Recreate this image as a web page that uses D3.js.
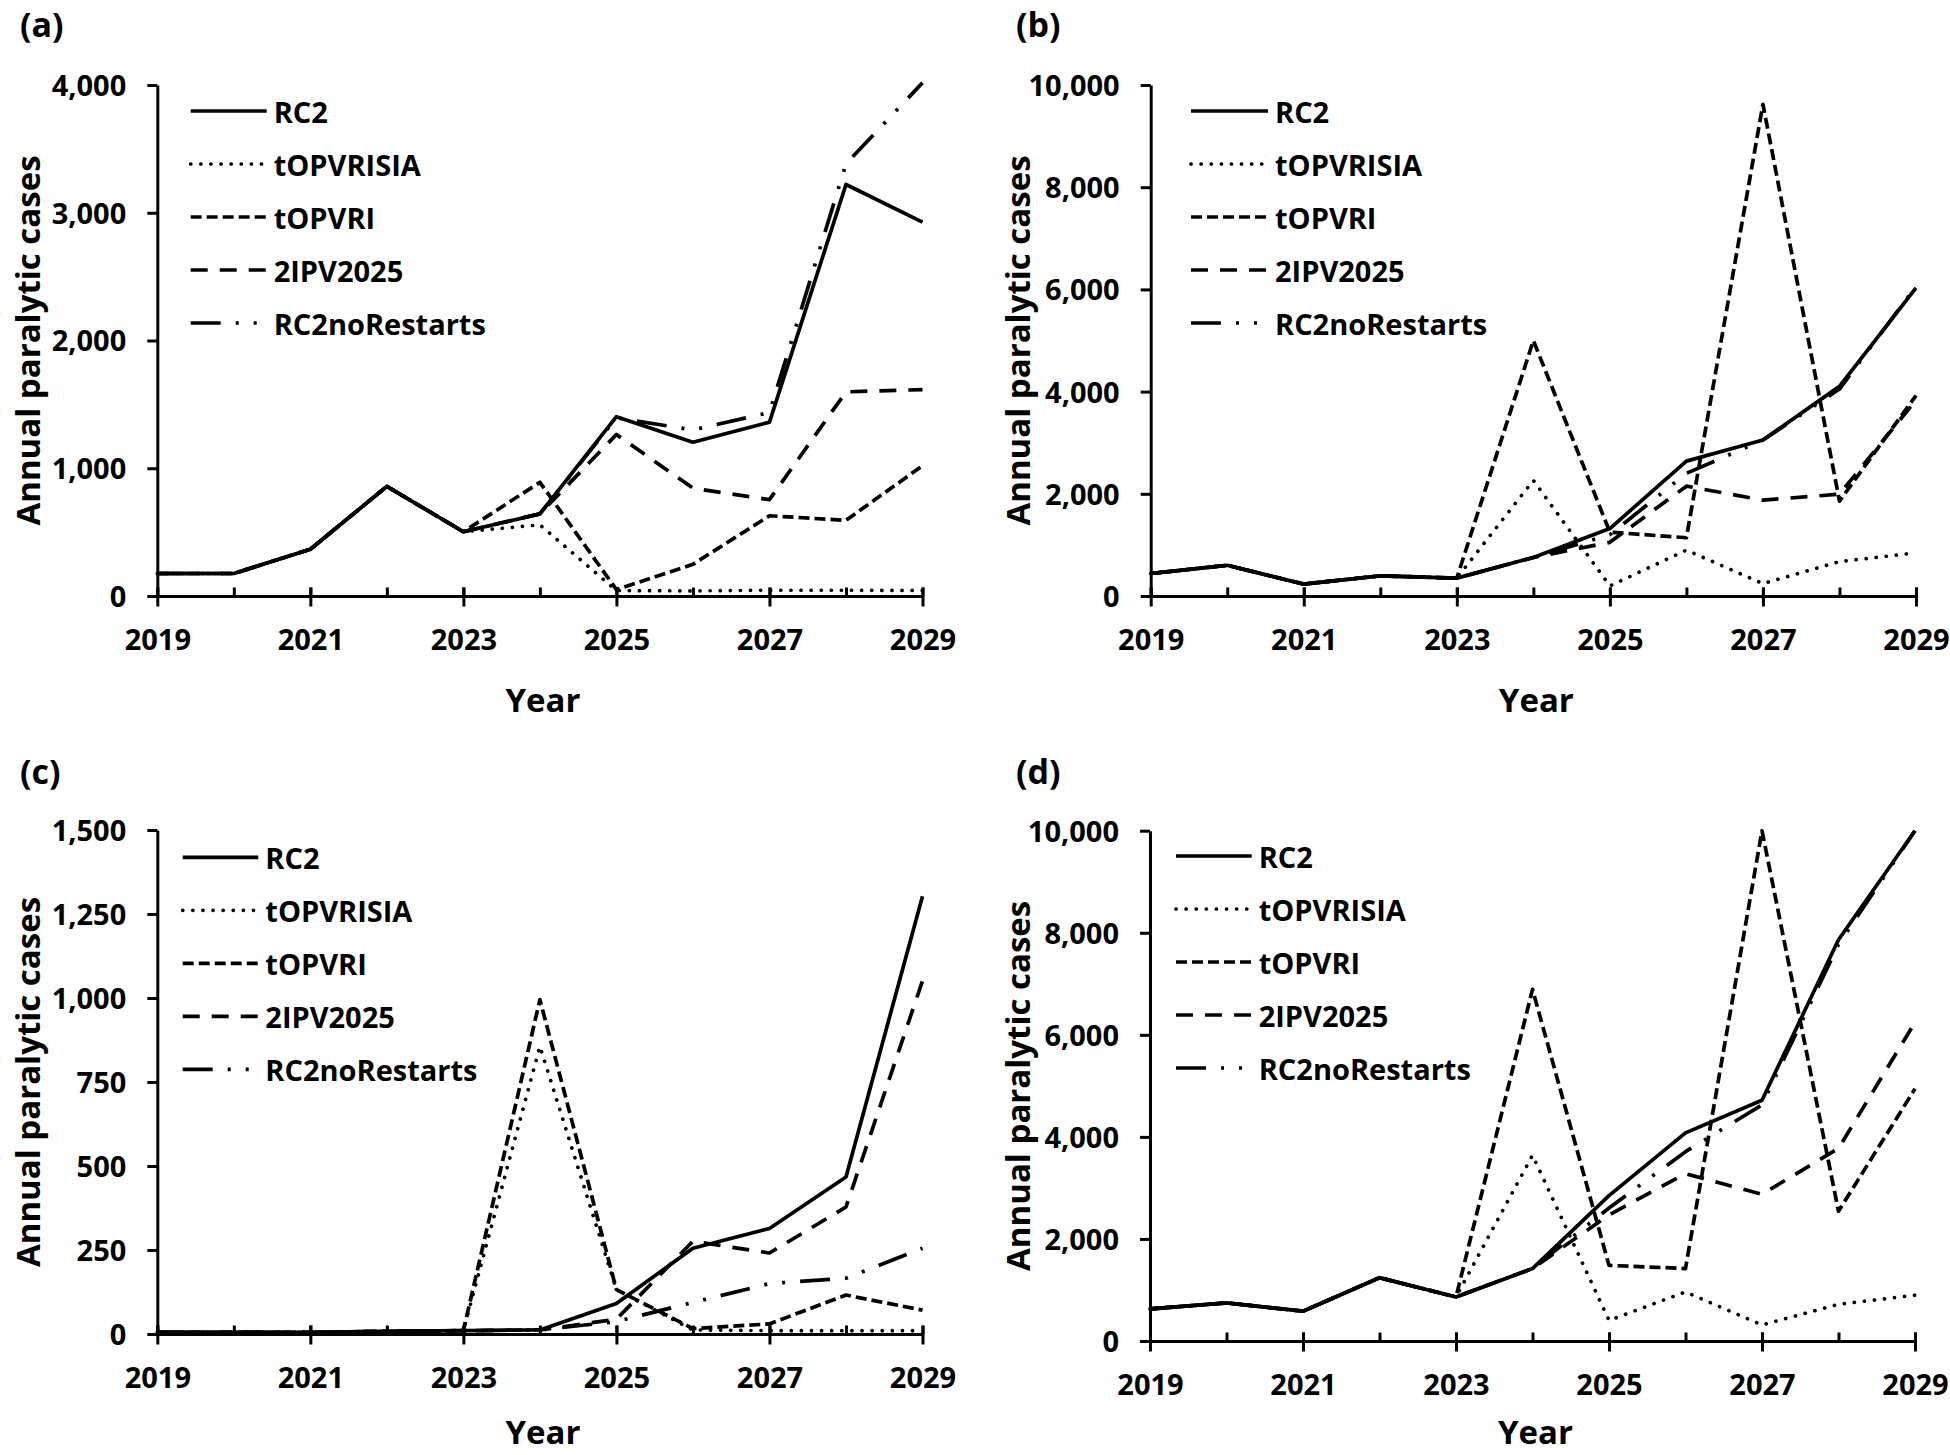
<!DOCTYPE html>
<html>
<head>
<meta charset="utf-8">
<script src="https://cdn.jsdelivr.net/npm/d3@7/dist/d3.min.js"></script>
<style>
  html, body { margin: 0; padding: 0; background: #fff; }
  svg { display: block; }
  text { font-family: "Open Sans", "Noto Sans", sans-serif; font-weight: 700; fill: #000; }
</style>
</head>
<body>
<svg id="chart" width="1950" height="1455"></svg>
<script>
// ---------- data ----------
const years = [2019, 2020, 2021, 2022, 2023, 2024, 2025, 2026, 2027, 2028, 2029];
const xTickLabels = [2019, 2021, 2023, 2025, 2027, 2029];
const seriesNames = ["RC2", "tOPVRISIA", "tOPVRI", "2IPV2025", "RC2noRestarts"];
const panelLabels = ["(a)", "(b)", "(c)", "(d)"];

// panel (a)
const aRC2          = [176, 176, 366, 858, 503, 643, 1404, 1203, 1361, 3221, 2926];
const aTOPVRISIA    = [176, 176, 366, 858, 503, 557, 43, 40, 45, 45, 43];
const aTOPVRI       = [176, 176, 366, 858, 503, 890, 50, 248, 628, 592, 1020];
const a2IPV2025     = [176, 176, 366, 858, 503, 643, 1264, 844, 754, 1598, 1616];
const aRC2noRestarts= [176, 176, 366, 858, 503, 643, 1395, 1300, 1436, 3382, 4018];
const aYTicks = [0, 1000, 2000, 3000, 4000];

// panel (b)
const bRC2          = [440, 601, 233, 395, 350, 754, 1320, 2639, 3052, 4102, 6032];
const bTOPVRISIA    = [440, 601, 233, 395, 350, 2262, 197, 898, 242, 673, 844];
const bTOPVRI       = [440, 601, 233, 395, 350, 5000, 1250, 1140, 9623, 1858, 3923];
const b2IPV2025     = [440, 601, 233, 395, 350, 754, 1050, 2150, 1876, 1993, 3833];
const bRC2noRestarts= [440, 601, 233, 395, 350, 754, 1200, 2400, 3052, 4050, 6060];
const bYTicks = [0, 2000, 4000, 6000, 8000, 10000];

// panel (c)
const cRC2          = [5, 5, 5, 8, 10, 12, 91, 255, 314, 467, 1303];
const cTOPVRISIA    = [5, 5, 5, 8, 10, 856, 132, 12, 10, 10, 10];
const cTOPVRI       = [5, 5, 5, 8, 10, 995, 132, 16, 30, 116, 71];
const c2IPV2025     = [5, 5, 5, 8, 10, 12, 44, 276, 241, 378, 1051];
const cRC2noRestarts= [5, 5, 5, 8, 10, 12, 37, 94, 150, 166, 255];
const cYTicks = [0, 250, 500, 750, 1000, 1250, 1500];

// panel (d)
const dRC2          = [629, 746, 584, 1240, 863, 1420, 2848, 4079, 4717, 7862, 10000];
const dTOPVRISIA    = [629, 746, 584, 1240, 863, 3639, 404, 961, 314, 719, 898];
const dTOPVRI       = [629, 746, 584, 1240, 863, 6891, 1482, 1420, 10000, 2543, 4942];
const d2IPV2025     = [629, 746, 584, 1240, 863, 1420, 2471, 3279, 2875, 3774, 6244];
const dRC2noRestarts= [629, 746, 584, 1240, 863, 1420, 2606, 3710, 4627, 7772, 10000];
const dYTicks = [0, 2000, 4000, 6000, 8000, 10000];

// ---------- styles ----------
const lineStyles = {
  "RC2":           { dash: null,                 cap: "butt"  },
  "tOPVRISIA":     { dash: "0.1,10",             cap: "round" },
  "tOPVRI":        { dash: "11,5",               cap: "butt"  },
  "2IPV2025":      { dash: "17,12",              cap: "butt"  },
  "RC2noRestarts": { dash: "30,15,3,15,3,15",    cap: "butt"  }
};

// ---------- layout ----------
const layouts = [
  { x0: 157.3, x1: 922.5, yTop: 85,    yBot: 596,  legX0: 190.7, legX1: 266.7, legY0: 111,   labX: 20,   labY: 37,  titleX: 27 },
  { x0: 1150.7, x1: 1916, yTop: 85,    yBot: 596,  legX0: 1191,  legX1: 1268,  legY0: 111,   labX: 1016, labY: 37,  titleX: 1017 },
  { x0: 157.3, x1: 922.5, yTop: 830,   yBot: 1334, legX0: 182.7, legX1: 258.3, legY0: 857.3, labX: 20,   labY: 784, titleX: 27 },
  { x0: 1150,  x1: 1915,  yTop: 830.7, yBot: 1341, legX0: 1176,  legX1: 1251.7,legY0: 856,   labX: 1016, labY: 784, titleX: 1017 }
];

const panelSeries = [
  [aRC2, aTOPVRISIA, aTOPVRI, a2IPV2025, aRC2noRestarts],
  [bRC2, bTOPVRISIA, bTOPVRI, b2IPV2025, bRC2noRestarts],
  [cRC2, cTOPVRISIA, cTOPVRI, c2IPV2025, cRC2noRestarts],
  [dRC2, dTOPVRISIA, dTOPVRI, d2IPV2025, dRC2noRestarts]
];
const panelYTicks = [aYTicks, bYTicks, cYTicks, dYTicks];

const svg = d3.select("#chart");
const fmt = d3.format(",");

panelSeries.forEach((series, pi) => {
  const L = layouts[pi];
  const yTicks = panelYTicks[pi];
  const x = d3.scaleLinear().domain([years[0], years[years.length - 1]]).range([L.x0, L.x1]);
  const y = d3.scaleLinear().domain([0, d3.max(yTicks)]).range([L.yBot, L.yTop]);
  const g = svg.append("g");

  // series lines (draw RC2 last so it sits on top)
  const order = [1, 2, 3, 4, 0];
  const line = d3.line().x((d, i) => x(years[i])).y(d => y(d));
  order.forEach(si => {
    const st = lineStyles[seriesNames[si]];
    g.append("path")
      .datum(series[si])
      .attr("d", line)
      .attr("fill", "none")
      .attr("stroke", "#000")
      .attr("stroke-width", 3.7)
      .attr("stroke-linejoin", "round")
      .attr("stroke-linecap", st.cap)
      .attr("stroke-dasharray", st.dash);
  });

  // y axis
  const yAxis = d3.axisLeft(y).tickValues(yTicks).tickFormat(fmt).tickSize(10).tickSizeOuter(0).tickPadding(21);
  const gy = g.append("g").attr("transform", `translate(${L.x0},0)`).call(yAxis);
  gy.select(".domain").attr("stroke", "#000").attr("stroke-width", 3);
  gy.selectAll(".tick line").attr("stroke", "#000").attr("stroke-width", 3);
  gy.selectAll(".tick text").attr("font-size", 29).attr("font-family", "Open Sans").attr("font-weight", 700).attr("fill", "#000").attr("dy", "0.36em");

  // x axis: minor (every year) inside ticks
  const xAxisTop = d3.axisTop(x).tickValues(years).tickSize(8.5).tickSizeOuter(0).tickFormat("");
  const gxt = g.append("g").attr("transform", `translate(0,${L.yBot})`).call(xAxisTop);
  gxt.select(".domain").remove();
  gxt.selectAll(".tick line").attr("stroke", "#000").attr("stroke-width", 3);

  // x axis: major crossing ticks with labels
  const xAxis = d3.axisBottom(x).tickValues(xTickLabels).tickFormat(d3.format("d")).tickSize(10.5).tickSizeOuter(0);
  const gx = g.append("g").attr("transform", `translate(0,${L.yBot})`).call(xAxis);
  gx.select(".domain").attr("stroke", "#000").attr("stroke-width", 3);
  gx.selectAll(".tick line").attr("stroke", "#000").attr("stroke-width", 3).attr("y1", -8.5);
  gx.selectAll(".tick text").attr("font-size", 29).attr("font-family", "Open Sans").attr("font-weight", 700).attr("fill", "#000").attr("y", 54).attr("dy", 0);

  // axis titles
  g.append("text")
    .attr("x", (L.x0 + L.x1) / 2 + 3)
    .attr("y", Math.min(L.yBot + 116, 1444))
    .attr("text-anchor", "middle")
    .attr("font-size", 33)
    .text("Year");
  g.append("text")
    .attr("transform", `translate(${L.titleX},${(L.yTop + L.yBot) / 2}) rotate(-90)`)
    .attr("text-anchor", "middle")
    .attr("dominant-baseline", "central")
    .attr("font-size", 33)
    .text("Annual paralytic cases");

  // panel label
  g.append("text")
    .attr("x", L.labX)
    .attr("y", L.labY)
    .attr("font-size", 34)
    .text(panelLabels[pi]);

  // legend
  seriesNames.forEach((name, si) => {
    const ry = L.legY0 + si * 53;
    const st = lineStyles[name];
    g.append("line")
      .attr("x1", L.legX0).attr("x2", L.legX1)
      .attr("y1", ry).attr("y2", ry)
      .attr("stroke", "#000")
      .attr("stroke-width", 3.7)
      .attr("stroke-linecap", st.cap)
      .attr("stroke-dasharray", st.dash);
    g.append("text")
      .attr("x", L.legX1 + 7)
      .attr("y", ry)
      .attr("dominant-baseline", "central")
      .attr("font-size", 29)
      .text(name);
  });
});
</script>
</body>
</html>
